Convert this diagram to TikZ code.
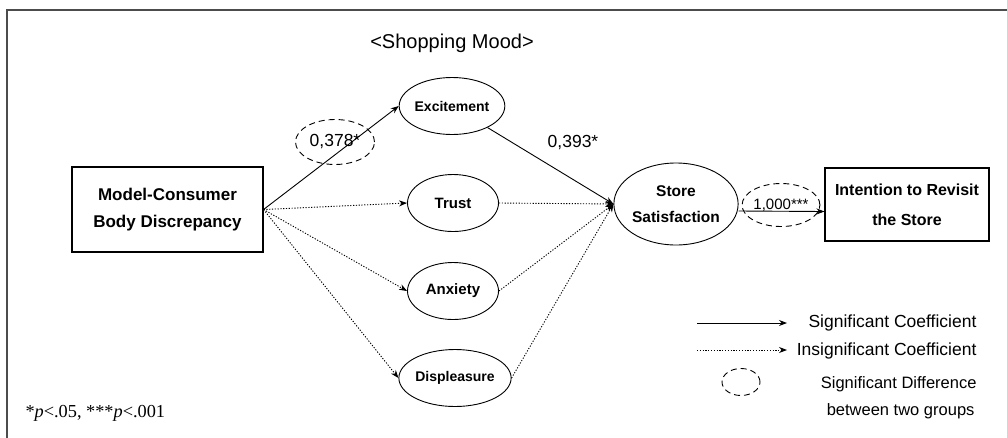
\documentclass[tikz,border=0pt]{standalone}
\usepackage{fontspec}
\setmainfont{Liberation Sans}
\newfontfamily\notefont{Liberation Serif}
\usetikzlibrary{shapes.geometric,arrows.meta}

\tikzset{
	mood/.style={ellipse, draw, line width=0.9pt, inner sep=0pt, minimum width=91pt, minimum height=57pt, font=\bfseries\fontsize{14}{16}\selectfont},
	block/.style={draw, line width=1.1pt, align=center, inner sep=0pt, font=\bfseries\fontsize{17}{27}\selectfont},
	diff/.style={ellipse, draw, dash pattern=on 6pt off 4pt, line width=0.9pt, inner sep=0pt},
	sig/.style={-{Stealth[length=8pt,width=6pt]}, line width=0.9pt},
	insig/.style={-{Stealth[length=8pt,width=6pt]}, line width=0.9pt, dash pattern=on 1.2pt off 1.6pt},
	coef/.style={font=\fontsize{17.5}{19}\selectfont},
	legtext/.style={anchor=east, font=\fontsize{17.5}{19}\selectfont}
}

\begin{document}
\begin{tikzpicture}[x=1pt, y=-1pt]
	\useasboundingbox (0,0) rectangle (1007,437);
	% frame
	\draw[line width=2pt, black!70] (7,450) -- (7,10) -- (1020,10);

	\node[font=\fontsize{20}{22}\selectfont] (title) at (452,43) {<Shopping Mood>};

	% nodes
	\node[block, minimum width=191pt, minimum height=85pt] (mcbd) at (167.5,209.5) {Model-Consumer\\Body Discrepancy};
	\node[mood] (exc) at (452,106) {Excitement};
	\node[mood, font=\bfseries\fontsize{15}{17}\selectfont] (trust) at (453,203) {Trust};
	\node[mood, font=\bfseries\fontsize{15}{17}\selectfont] (anx) at (453,291) {Anxiety};
	\node[mood] (disp) at (455,378) {Displeasure};
	\node[ellipse, draw, line width=0.9pt, inner sep=0pt, minimum width=122pt, minimum height=82pt, align=center, font=\bfseries\fontsize{15.5}{26}\selectfont] (sat) at (676,204) {Store\\Satisfaction};
	\node[block, minimum width=164pt, minimum height=73pt, font=\bfseries\fontsize{16}{30}\selectfont] (intent) at (907,204.5) {Intention to Revisit\\the Store};

	% paths
	\draw[sig] (mcbd.east) -- (exc.west);
	\draw[insig] (mcbd.east) -- (trust.west);
	\draw[insig] (mcbd.east) -- (anx.west);
	\draw[insig] (mcbd.east) -- (disp.west);
	\draw[sig] (exc) -- (sat.west);
	\draw[insig] (trust.east) -- (sat.west);
	\draw[insig] (anx.east) -- (sat.west);
	\draw[insig] (disp.east) -- (sat.west);
	\draw[sig] ([yshift=-7pt]sat.east) -- ([yshift=-7pt]intent.west);

	% coefficients
	\node[diff, coef, minimum width=79pt, minimum height=45pt] (d1) at (335,142) {0,378*};
	\node[coef] (c2) at (573,143) {0,393*};
	\node[diff, font=\fontsize{15}{17}\selectfont, minimum width=73pt, minimum height=43pt] (d3) at (781,205) {1,000***};

	% legend
	\coordinate (l1a) at (697,323); \coordinate (l1b) at (787,323);
	\coordinate (l2a) at (697,350); \coordinate (l2b) at (787,350);
	\draw[sig] (l1a) -- (l1b);
	\draw[insig] (l2a) -- (l2b);
	\node[legtext] (t1) at (980,323) {Significant Coefficient};
	\node[legtext] (t2) at (980,351) {Insignificant Coefficient};
	\node[diff, minimum width=38pt, minimum height=27pt] (d4) at (741,382) {};
	\node[legtext, font=\fontsize{16.5}{18}\selectfont] (t3) at (980,384) {Significant Difference};
	\node[legtext, font=\fontsize{16.5}{18}\selectfont] (t4) at (978,411) {between two groups};

	\node[anchor=west, font=\notefont\fontsize{18.3}{20}\selectfont] (note) at (22,413) {*\textit{p}<.05, ***\textit{p}<.001};
\end{tikzpicture}
\end{document}
